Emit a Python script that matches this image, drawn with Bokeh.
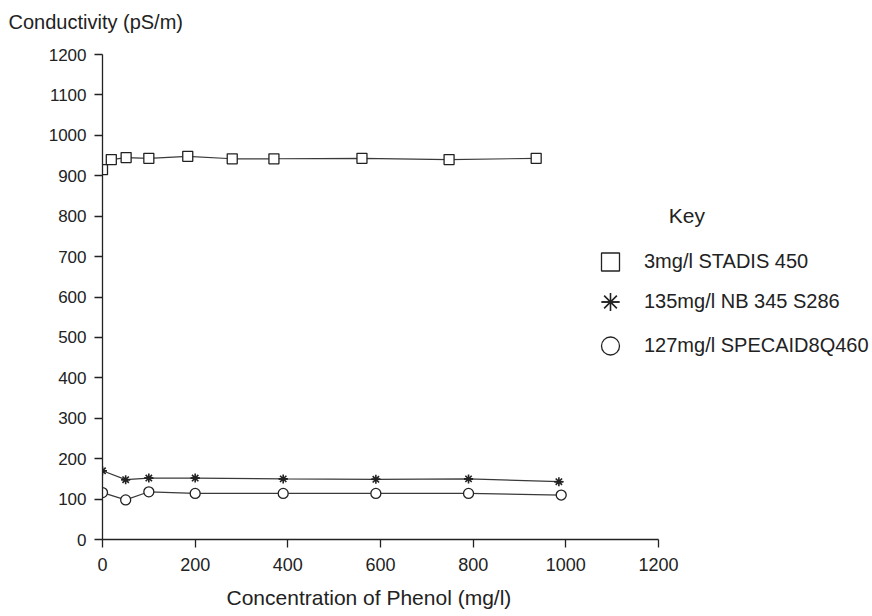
from bokeh.plotting import figure
from bokeh.models import Label, Legend, LegendItem, Range1d, FixedTicker, Title
from bokeh.embed import file_html
from bokeh.resources import INLINE

# ---- data ----
stadis_x = [0, 19, 51, 100, 184, 280, 370, 560, 748, 936]
stadis_y = [915, 940, 945, 943, 948, 942, 942, 943, 940, 943]

nb_x = [0, 50, 100, 200, 390, 590, 790, 985]
nb_y = [170, 148, 152, 152, 150, 149, 150, 143]

spec_x = [0, 50, 100, 200, 390, 590, 790, 990]
spec_y = [116, 98, 118, 114, 114, 114, 114, 110]

x_ticks = [0, 200, 400, 600, 800, 1000, 1200]
y_ticks = [0, 100, 200, 300, 400, 500, 600, 700, 800, 900, 1000, 1100, 1200]

series_names = ["3mg/l STADIS 450", "135mg/l NB 345 S286", "127mg/l SPECAID8Q460"]
y_title = "Conductivity (pS/m)"
x_title = "Concentration of Phenol (mg/l)"
key_title = "Key"

FONT = "Liberation Sans"
INK = "#222222"
LINE = "#3a3a3a"

# axis spans 0..1200; the frame continues to the right to hold the key
X_MAX = 1200
FRAME_W = 770
X_VIEW = FRAME_W * 1200 / 556.0

p = figure(
    frame_width=FRAME_W, frame_height=485,
    min_border_left=102, min_border_right=0, min_border_top=54, min_border_bottom=77,
    x_range=Range1d(0, X_VIEW), y_range=Range1d(0, 1200),
    output_backend="svg", toolbar_location=None,
)
p.outline_line_color = None
p.xgrid.visible = False
p.ygrid.visible = False
p.background_fill_color = "white"
p.border_fill_color = "white"

for ax in (p.xaxis, p.yaxis):
    ax.axis_line_color = INK
    ax.axis_line_width = 1.3
    ax.major_tick_line_color = INK
    ax.major_tick_line_width = 1.3
    ax.major_tick_out = 8
    ax.major_tick_in = 0
    ax.minor_tick_line_color = None
    ax.major_label_text_font = FONT
    ax.major_label_text_color = INK

p.yaxis.major_label_text_font_size = "17px"
p.xaxis.major_label_text_font_size = "18px"
p.xaxis.ticker = FixedTicker(ticks=x_ticks)
p.yaxis.ticker = FixedTicker(ticks=y_ticks)
p.xaxis.bounds = (0, X_MAX)
p.yaxis.bounds = (0, 1200)
p.xaxis.major_label_standoff = 10
p.yaxis.major_label_standoff = 8

# lines
p.line(stadis_x, stadis_y, line_color=LINE, line_width=1.2)
p.line(nb_x, nb_y, line_color=LINE, line_width=1.2)
p.line(spec_x, spec_y, line_color=LINE, line_width=1.2)

# markers
r_sq = p.scatter(stadis_x, stadis_y, marker="square", size=10,
                 fill_color="white", line_color=INK, line_width=1.3)
r_ast1 = p.scatter(nb_x, nb_y, marker="asterisk", size=9,
                   line_color=INK, line_width=1.6)
r_ast2 = p.scatter(nb_x, nb_y, marker="dash", size=9,
                   line_color=INK, line_width=1.6)
r_ci = p.scatter(spec_x, spec_y, marker="circle", size=10,
                 fill_color="white", line_color=INK, line_width=1.3)

# key: one single-row legend per series so each row sits where the reference has it
key_rows = [
    (series_names[0], [r_sq], 255),
    (series_names[1], [r_ast1, r_ast2], 215),
    (series_names[2], [r_ci], 171),
]
for name, rends, bottom in key_rows:
    lg = Legend(
        items=[LegendItem(label=name, renderers=rends)],
        location=(485, bottom), orientation="vertical",
        glyph_width=46, glyph_height=45, label_height=45,
        spacing=0, padding=0, margin=0, label_standoff=11,
        border_line_color=None, background_fill_alpha=0,
        label_text_font=FONT, label_text_font_size="20px", label_text_color=INK,
    )
    p.add_layout(lg)

p.add_layout(Label(x=1222, y=801, text=key_title, text_font=FONT,
                   text_font_size="21px", text_color=INK,
                   text_align="left", text_baseline="alphabetic"))

# a blank second line lifts the vertical-axis title towards the top edge
p.add_layout(Title(text=y_title + "\n ", align="left", offset=-94, standoff=0,
                   text_font=FONT, text_font_size="20px", text_color=INK,
                   text_font_style="normal"), "above")
p.add_layout(Title(text=x_title, align="left", offset=124, standoff=20,
                   text_font=FONT, text_font_size="21px", text_color=INK,
                   text_font_style="normal"), "below")

open("out.html", "w").write(file_html(p, INLINE))
